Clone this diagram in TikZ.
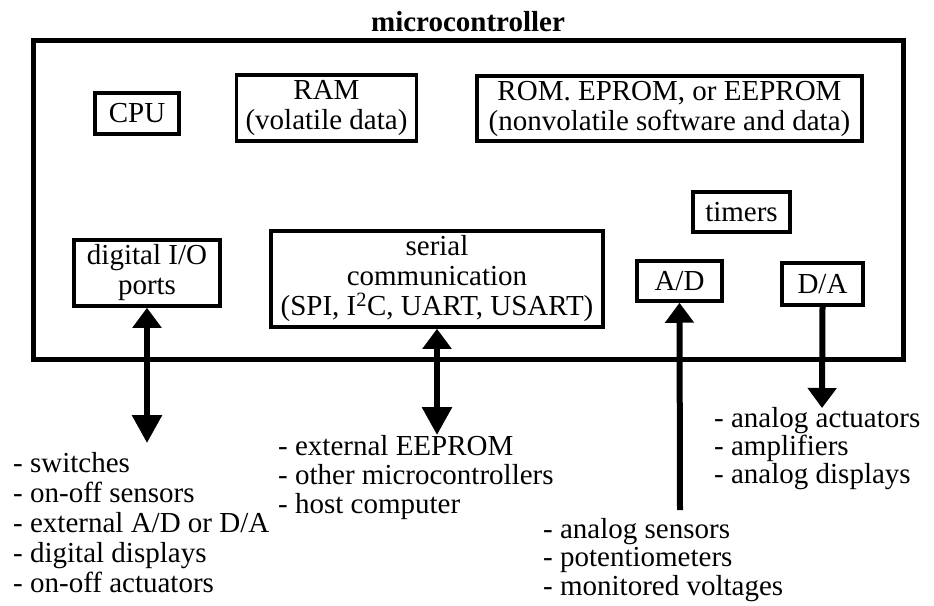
\documentclass[tikz,border=0pt]{standalone}
\usepackage{fontspec}
\setmainfont{Liberation Serif}
\usetikzlibrary{arrows.meta}
\tikzset{
  box/.style={draw=black, line width=3.5pt, inner sep=0pt, align=center, font=\fontsize{29}{30}\selectfont},
  outerbox/.style={draw=black, line width=5pt, inner sep=0pt},
  item/.style={inner sep=0pt, anchor=base west, font=\fontsize{29}{30}\selectfont},
  conn/.style={line width=6pt, draw=black},
  headA/.tip={Triangle[length=20pt,width=28pt]},
  headB/.tip={Triangle[length=28pt,width=29pt]}
}
\begin{document}
\begin{tikzpicture}[x=1pt,y=-1pt]
\useasboundingbox (0,0) rectangle (934,605);
% title and outer box
\node[outerbox, minimum width=870pt, minimum height=319pt] (mc) at (468,199.5) {};
\node[inner sep=0pt, anchor=base, font=\fontsize{29}{30}\selectfont\bfseries] (title) at (468,31) {microcontroller};
% internal blocks
\node[box, minimum width=84pt, minimum height=41pt] (cpu) at (137,113.5) {CPU};
\node[box, minimum width=180pt, minimum height=66pt] (ram) at (326.5,108) {RAM\\(volatile data)};
\node[box, minimum width=385pt, minimum height=65pt] (rom) at (669.5,108.5) {ROM. EPROM, or EEPROM\\(nonvolatile software and data)};
\node[box, minimum width=97pt, minimum height=40pt] (tim) at (741.5,212) {timers};
\node[box, minimum width=146pt, minimum height=66pt] (dio) at (147,273) {digital I/O\\ports};
\node[box, minimum width=332pt, minimum height=96pt] (ser) at (437,279) {serial\\communication\\(SPI, I\textsuperscript{2}C, UART, USART)};
\node[box, minimum width=85pt, minimum height=40pt] (ad) at (679.5,281) {A/D};
\node[box, minimum width=81pt, minimum height=42pt] (da) at (822.5,284) {D/A};
% free ends
\coordinate (dioend) at (147,443);
\coordinate (serend) at (437,435);
\coordinate (adend) at (680,510);
\coordinate (daend) at (822,408);
% connectors
\draw[conn, {headA}-{headB}] (dio.south) -- (dioend);
\draw[conn, {headA}-{headB}] (ser.south) -- (serend);
\draw[conn, -{headA}] (adend) -- (ad.south);
\draw[conn, -{headA}] (da.south) -- (daend);
% lists
\foreach \t [count=\i] in {- switches, - on-off sensors, - external A/D or D/A, - digital displays, - on-off actuators}
  \node[item] (dl\i) at (13,{472+30*(\i-1)}) {\t};
\foreach \t [count=\i] in {- external EEPROM, - other microcontrollers, - host computer}
  \node[item] (sl\i) at (278,{455+29*(\i-1)}) {\t};
\foreach \t [count=\i] in {- analog sensors, - potentiometers, - monitored voltages}
  \node[item] (al\i) at (543,{538+28.5*(\i-1)}) {\t};
\foreach \t [count=\i] in {- analog actuators, - amplifiers, - analog displays}
  \node[item] (ol\i) at (714,{427+28*(\i-1)}) {\t};
\end{tikzpicture}
\end{document}
